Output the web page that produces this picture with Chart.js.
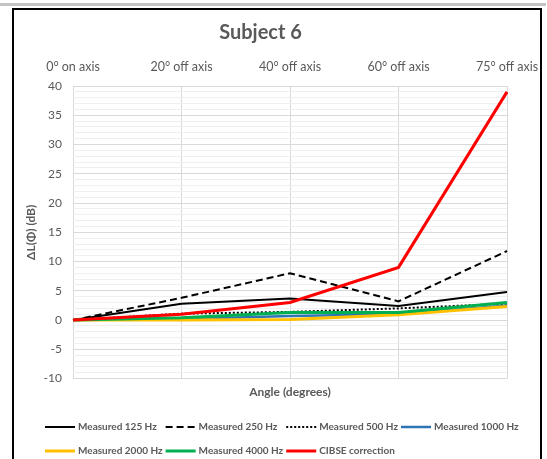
<!DOCTYPE html>
<html>
<head>
<meta charset="utf-8">
<script src="https://cdn.jsdelivr.net/npm/chart.js@4"></script>
<style>
  html, body { margin: 0; padding: 0; background: #fff; }
  #wrap { position: relative; width: 547px; height: 459px; overflow: hidden; }
  #bar { position: absolute; left: 0; top: 3px; width: 546px; height: 3px; background: #c4c4c4; }
  #frame { position: absolute; left: 12px; top: 8px; width: 526px; height: 470px; border: 2px solid #000; }
  canvas { position: absolute; left: 0; top: 0; }
</style>
</head>
<body>
<div id="wrap">
  <div id="bar"></div>
  <div id="frame"></div>
  <canvas id="chart" width="547" height="459"></canvas>
</div>
<script>
// Viewing angles (top axis categories)
const categories = ['0° on axis', '20° off axis', '40° off axis', '60° off axis', '75° off axis'];

// Level difference ΔL(Φ) in dB per frequency band
const measured125  = [0, 2.8, 3.7, 2.4, 4.8];
const measured250  = [0, 3.8, 8.0, 3.2, 11.8];
const measured500  = [0, 1.1, 1.4, 2.0, 2.8];
const measured1000 = [0, 0.2, 0.7, 1.0, 2.5];
const measured2000 = [0, 0.0, 0.1, 0.9, 2.3];
const measured4000 = [0, 0.4, 1.3, 1.3, 3.0];
const cibseCorrection = [0, 1.0, 3.0, 9.0, 39.0];

// Labelled values on the vertical axis
const yTickLabels = [-10, -5, 0, 5, 10, 15, 20, 25, 30, 35, 40];

const GREY = '#595959';
Chart.defaults.font.family = 'Lato, "Open Sans", sans-serif';
Chart.defaults.color = GREY;

// Two-row, column-aligned legend with line samples
const lineLegend = {
  id: 'lineLegend',
  afterDraw(chart, args, opts) {
    const ctx = chart.ctx;
    const sets = chart.data.datasets;
    const cols = opts.columns;
    ctx.save();
    ctx.font = 'bold 10px Lato, "Open Sans", sans-serif';
    const colW = [];
    sets.forEach((d, i) => {
      const c = i % cols;
      colW[c] = Math.max(colW[c] || 0, ctx.measureText(d.label).width);
    });
    const colX = [];
    let x = opts.left;
    for (let c = 0; c < cols; c++) {
      colX[c] = x;
      x += opts.sample + opts.textGap + colW[c] + opts.colGap;
    }
    sets.forEach((d, i) => {
      const c = i % cols, r = Math.floor(i / cols);
      const lx = colX[c], ly = opts.top + r * opts.rowHeight;
      ctx.beginPath();
      ctx.setLineDash(d.borderDash || []);
      ctx.lineWidth = d.borderWidth;
      ctx.strokeStyle = d.borderColor;
      ctx.moveTo(lx, ly);
      ctx.lineTo(lx + opts.sample, ly);
      ctx.stroke();
      ctx.setLineDash([]);
      ctx.fillStyle = GREY;
      ctx.textBaseline = 'middle';
      ctx.textAlign = 'left';
      ctx.fillText(d.label, lx + opts.sample + opts.textGap, ly);
    });
    ctx.restore();
  }
};

function series(label, data, color, width, dash, order) {
  return {
    label, data,
    borderColor: color, backgroundColor: color,
    borderWidth: width, borderDash: dash,
    pointRadius: 0, pointHoverRadius: 0,
    tension: 0, fill: false, order
  };
}

new Chart(document.getElementById('chart'), {
  type: 'line',
  data: {
    labels: categories,
    datasets: [
      series('Measured 125 Hz', measured125, '#000000', 2, [], 7),
      series('Measured 250 Hz', measured250, '#000000', 2, [7, 4], 6),
      series('Measured 500 Hz', measured500, '#000000', 2, [2, 2], 5),
      series('Measured 1000 Hz', measured1000, '#2E75B6', 2.5, [], 4),
      series('Measured 2000 Hz', measured2000, '#FFC000', 3, [], 3),
      series('Measured 4000 Hz', measured4000, '#00B050', 3, [], 2),
      series('CIBSE correction', cibseCorrection, '#FF0000', 3, [], 1)
    ]
  },
  options: {
    responsive: false,
    animation: false,
    devicePixelRatio: 1,
    layout: { padding: { left: 14, top: 10, right: 40, bottom: 60 } },
    plugins: {
      legend: { display: false },
      tooltip: { enabled: false },
      title: {
        display: true,
        text: 'Subject 6',
        color: GREY,
        font: { size: 20, weight: 'bold' },
        padding: { top: 11, bottom: 2 }
      },
      lineLegend: { columns: 4, left: 45, top: 427, rowHeight: 24, sample: 30, textGap: 3, colGap: 3 }
    },
    scales: {
      x: {
        type: 'category',
        position: 'top',
        grid: { color: '#d9d9d9', drawTicks: false },
        border: { display: false },
        ticks: {
          color: GREY, font: { size: 12.5, lineHeight: 2 }, padding: 7,
          maxRotation: 0, autoSkip: false
        }
      },
      x2: {
        type: 'category',
        position: 'bottom',
        labels: categories,
        grid: { display: false, drawTicks: false },
        border: { display: false },
        ticks: { display: false },
        title: {
          display: true, text: 'Angle (degrees)', color: GREY,
          font: { size: 12, weight: 'bold' }, padding: { top: 6, bottom: 0 }
        }
      },
      y: {
        min: -10, max: 40,
        afterFit(scale) { scale.width = 59; },
        grid: {
          drawTicks: false,
          color: c => (yTickLabels.includes(c.tick.value) ? '#d9d9d9' : '#efefef')
        },
        border: { display: false },
        ticks: {
          stepSize: 1, autoSkip: false, color: GREY, font: { size: 12 }, padding: 11,
          callback: v => (yTickLabels.includes(v) ? String(v) : '')
        },
        title: {
          display: true, text: 'ΔL(Φ) (dB)', color: GREY,
          font: { size: 12, weight: 'bold' }, padding: { top: 10, bottom: 0 }
        }
      }
    }
  },
  plugins: [lineLegend]
});
</script>
</body>
</html>
